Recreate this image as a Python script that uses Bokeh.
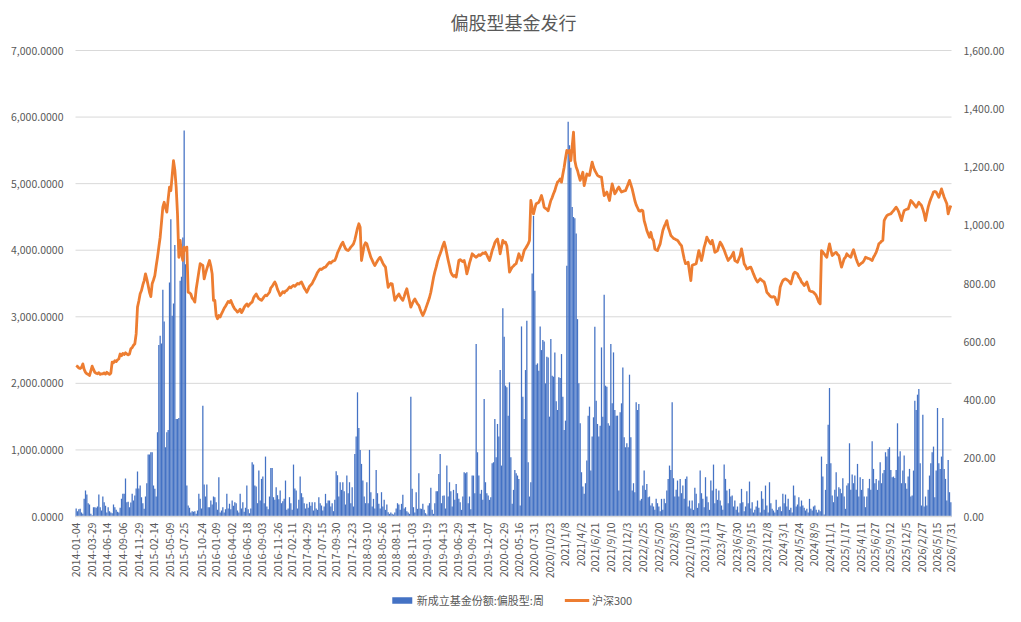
import math
from datetime import date
from bokeh.plotting import figure
from bokeh.core.properties import value
from bokeh.models import (ColumnDataSource, Range1d, Legend, LegendItem, Label)
from bokeh.embed import file_html
from bokeh.resources import INLINE

title_text = "偏股型基金发行"
bar_name = "新成立基金份额:偏股型:周"
line_name = "沪深300"

tick_labels = ["2014-01-04", "2014-03-29", "2014-06-14", "2014-09-06", "2014-11-29",
               "2015-02-14", "2015-05-09", "2015-07-25", "2015-10-24", "2016-01-09",
               "2016-04-02", "2016-06-18", "2016-09-03", "2016-11-26", "2017-02-11",
               "2017-04-29", "2017-07-15", "2017-09-30", "2017-12-23", "2018-03-10",
               "2018-05-26", "2018-08-11", "2018-11-03", "2019-01-19", "2019-04-13",
               "2019-06-29", "2019-09-14", "2019-12-07", "2020-02-29", "2020-05-16",
               "2020-07-31", "2020/10/23", "2021/1/8", "2021/4/2", "2021/6/21",
               "2021/9/10", "2021/12/3", "2022/2/25", "2022/5/20", "2022/8/5",
               "2022/10/28", "2023/1/13", "2023/4/7", "2023/6/30", "2023/9/15",
               "2023/12/8", "2024/3/1", "2024/5/24", "2024/8/9", "2024/11/1",
               "2025/1/17", "2025/4/11", "2025/6/27", "2025/9/12", "2025/12/5",
               "2026/2/27", "2026/5/15", "2026/7/31"]

# weekly new shares of equity-biased funds (left axis)
fund_shares = [
    120, 80, 110, 115, 60, 40, 265, 390, 330, 200,
    180, 40, 20, 140, 140, 130, 150, 330, 140, 90,
    300, 215, 160, 60, 140, 80, 60, 50, 180, 140,
    100, 70, 60, 130, 265, 340, 340, 570, 215, 220,
    140, 210, 340, 240, 315, 420, 675, 420, 465, 290,
    200, 115, 300, 500, 930, 930, 965, 965, 465, 415,
    300, 1265, 2575, 2715, 2600, 3405, 2930, 1040, 1265, 1300,
    3515, 4465, 3015, 3200, 4080, 1465, 1465, 1480, 3540, 3600,
    4190, 5800, 3790, 465, 165, 130, 60, 80, 70, 80,
    40, 90, 340, 265, 120, 1665, 480, 300, 480, 140,
    140, 240, 180, 300, 290, 215, 100, 590, 60, 90,
    140, 60, 110, 340, 120, 190, 110, 240, 160, 215,
    200, 90, 60, 340, 120, 215, 70, 130, 465, 110,
    50, 120, 815, 780, 465, 450, 200, 690, 240, 565,
    600, 200, 900, 150, 110, 300, 730, 730, 290, 250,
    440, 320, 260, 390, 200, 230, 265, 540, 100, 120,
    290, 200, 100, 780, 420, 390, 120, 250, 600, 350,
    290, 200, 120, 190, 130, 215, 160, 215, 90, 215,
    120, 100, 290, 200, 165, 90, 150, 340, 200, 240,
    240, 150, 200, 80, 250, 680, 620, 300, 515, 400,
    515, 380, 180, 615, 350, 515, 200, 440, 150, 940,
    1200, 1865, 1330, 1000, 790, 540, 300, 200, 515, 200,
    1000, 365, 150, 265, 120, 700, 350, 190, 120, 365,
    150, 250, 100, 180, 65, 40, 60, 40, 30, 60,
    120, 200, 180, 100, 190, 325, 120, 140, 80, 60,
    40, 1800, 415, 140, 60, 365, 115, 650, 120, 115,
    190, 100, 50, 30, 165, 200, 430, 100, 40, 200,
    380, 380, 640, 940, 200, 310, 315, 120, 765, 300,
    515, 380, 150, 400, 250, 490, 350, 265, 215, 100,
    300, 665, 650, 665, 200, 300, 110, 615, 615, 350,
    2590, 965, 615, 340, 400, 250, 1765, 515, 350, 315,
    250, 290, 800, 815, 1465, 890, 1390, 1200, 2200, 765,
    3130, 2700, 1965, 1940, 1515, 2015, 890, 190, 400, 700,
    650, 615, 565, 165, 2855, 1800, 1465, 2200, 2940, 815,
    300, 515, 3650, 4515, 3390, 2280, 2300, 2190, 2855, 2500,
    2650, 2630, 2000, 2400, 2390, 1500, 2665, 2115, 2100, 2465,
    1730, 1600, 2090, 2080, 2440, 1800, 1300, 1440, 3765, 5930,
    5575, 5240, 4650, 4500, 4480, 4250, 2965, 2000, 1400, 665,
    450, 340, 500, 840, 1515, 1650, 690, 1200, 1490, 2850,
    1740, 1390, 1200, 1365, 2540, 1500, 3330, 1965, 1950, 1400,
    1365, 2590, 1700, 2465, 1600, 1515, 1515, 390, 1565, 1700,
    2240, 1190, 1040, 1100, 1040, 2130, 1190, 390, 500, 365,
    1715, 1600, 1690, 240, 265, 465, 690, 400, 490, 290,
    300, 165, 200, 150, 100, 265, 200, 150, 80, 265,
    100, 265, 200, 390, 565, 765, 700, 1715, 575, 300,
    400, 540, 300, 565, 350, 465, 265, 565, 600, 150,
    240, 120, 240, 100, 430, 340, 130, 200, 690, 350,
    265, 140, 590, 300, 215, 100, 540, 390, 780, 200,
    415, 250, 390, 240, 165, 100, 780, 565, 390, 200,
    415, 300, 315, 150, 240, 100, 150, 60, 200, 415,
    215, 80, 150, 380, 200, 525, 120, 215, 60, 100,
    150, 240, 130, 60, 380, 265, 100, 465, 165, 60,
    515, 200, 115, 90, 60, 250, 100, 140, 150, 80,
    340, 200, 330, 150, 265, 100, 130, 60, 465, 315,
    150, 180, 290, 150, 240, 165, 130, 90, 115, 60,
    265, 115, 90, 150, 165, 100, 60, 100, 80, 900,
    600, 30, 400, 790, 1380, 1930, 800, 315, 215, 400,
    665, 300, 440, 415, 350, 575, 300, 115, 465, 500,
    1100, 400, 630, 500, 615, 400, 790, 300, 590, 400,
    565, 300, 140, 300, 425, 565, 400, 1130, 715, 500,
    565, 400, 540, 815, 500, 650, 700, 965, 900, 1015,
    1040, 700, 590, 600, 580, 700, 1400, 900, 980, 500,
    690, 915, 500, 415, 600, 715, 300, 315, 690, 1740,
    1600, 1830, 1915, 800, 165, 1530, 150, 300, 165, 400,
    615, 800, 965, 1050, 290, 690, 1630, 800, 715, 900,
    1480, 715, 565, 240, 850, 365, 215,
]

# weekly CSI 300 close (right axis)
hs300 = [
    518, 515, 510, 508, 512, 524, 505, 495, 490, 488,
    484, 500, 516, 505, 495, 492, 490, 494, 488, 490,
    490, 493, 489, 495, 491, 488, 492, 530, 528, 535,
    532, 538, 541, 558, 552, 560, 556, 562, 558, 555,
    558, 576, 580, 588, 593, 627, 719, 740, 765, 776,
    795, 810, 833, 815, 793, 770, 755, 799, 812, 827,
    860, 890, 925, 959, 1010, 1062, 1079, 1060, 1045, 1090,
    1131, 1119, 1170, 1222, 1190, 1131, 1039, 890, 948, 900,
    879, 925, 915, 925, 770, 768, 764, 750, 745, 736,
    780, 810, 840, 868, 865, 862, 816, 835, 850, 865,
    879, 860, 833, 742, 742, 690, 679, 690, 685, 696,
    705, 715, 722, 730, 738, 735, 742, 730, 720, 712,
    708, 702, 705, 712, 700, 707, 718, 725, 730, 722,
    728, 733, 736, 750, 758, 764, 755, 748, 745, 742,
    748, 755, 760, 758, 764, 770, 785, 790, 798, 805,
    795, 780, 770, 759, 765, 772, 768, 774, 776, 782,
    788, 785, 790, 793, 790, 795, 800, 798, 802, 805,
    795, 785, 778, 770, 780, 790, 795, 800, 810, 818,
    828, 838, 845, 850, 848, 852, 855, 856, 862, 868,
    873, 870, 875, 878, 879, 890, 905, 915, 925, 935,
    942, 930, 920, 915, 913, 918, 925, 930, 936, 950,
    970, 990, 1005, 993, 879, 905, 930, 940, 936, 920,
    905, 890, 880, 870, 862, 870, 878, 885, 890, 880,
    870, 862, 856, 820, 787, 795, 800, 799, 770, 742,
    750, 758, 764, 755, 748, 742, 755, 770, 782, 760,
    740, 719, 730, 740, 747, 738, 730, 725, 712, 700,
    690, 700, 712, 725, 738, 752, 770, 795, 820, 840,
    856, 875, 890, 902, 915, 930, 942, 925, 902, 880,
    860, 839, 830, 825, 828, 822, 850, 879, 882, 878,
    875, 879, 860, 833, 850, 870, 885, 902, 898, 893,
    890, 894, 899, 896, 900, 905, 903, 907, 898, 888,
    879, 895, 913, 925, 940, 948, 953, 930, 902, 925,
    948, 940, 942, 930, 890, 839, 848, 856, 860, 865,
    868, 885, 902, 890, 879, 895, 913, 920, 928, 936,
    948, 1085, 1060, 1039, 1058, 1074, 1076, 1079, 1090, 1102,
    1085, 1062, 1058, 1055, 1050, 1068, 1085, 1095, 1108, 1119,
    1135, 1148, 1152, 1159, 1148, 1175, 1199, 1230, 1257, 1250,
    1257, 1222, 1270, 1320, 1222, 1200, 1188, 1170, 1154, 1168,
    1182, 1136, 1155, 1176, 1172, 1171, 1195, 1217, 1200, 1188,
    1180, 1171, 1168, 1166, 1165, 1130, 1102, 1108, 1114, 1100,
    1085, 1115, 1142, 1125, 1108, 1115, 1125, 1131, 1122, 1114,
    1116, 1118, 1119, 1130, 1142, 1154, 1140, 1125, 1105, 1085,
    1070, 1060, 1050, 1048, 1052, 1050, 1016, 1000, 982, 970,
    959, 976, 955, 948, 919, 915, 913, 925, 936, 960,
    982, 995, 1005, 1016, 993, 980, 965, 960, 955, 953,
    950, 948, 942, 935, 930, 907, 885, 868, 870, 873,
    840, 810, 862, 865, 866, 868, 890, 913, 895, 879,
    900, 925, 940, 959, 950, 942, 936, 948, 930, 907,
    910, 913, 928, 942, 935, 925, 915, 902, 890, 879,
    885, 890, 898, 907, 879, 876, 873, 885, 896, 919,
    895, 868, 860, 850, 852, 855, 856, 845, 833, 822,
    812, 805, 810, 816, 812, 808, 805, 790, 770, 765,
    759, 755, 753, 755, 753, 740, 728, 750, 787, 800,
    810, 814, 816, 813, 810, 805, 799, 815, 833, 839,
    836, 833, 822, 816, 805, 800, 793, 798, 805, 790,
    776, 773, 772, 770, 765, 759, 748, 736, 730, 913,
    908, 902, 895, 890, 915, 936, 915, 896, 900, 905,
    907, 900, 896, 875, 856, 870, 885, 890, 902, 896,
    893, 890, 905, 916, 900, 885, 872, 862, 866, 870,
    873, 880, 890, 888, 886, 885, 882, 879, 890, 898,
    907, 920, 936, 940, 945, 948, 1016, 1025, 1033, 1036,
    1038, 1039, 1045, 1050, 1056, 1062, 1055, 1045, 1030, 1016,
    1035, 1050, 1053, 1055, 1056, 1070, 1085, 1080, 1074, 1068,
    1062, 1070, 1079, 1073, 1068, 1055, 1039, 1016, 1040, 1062,
    1078, 1091, 1102, 1114, 1116, 1114, 1105, 1096, 1110, 1125,
    1110, 1096, 1085, 1074, 1039, 1055, 1068,
]

left_ticks = [0, 1000, 2000, 3000, 4000, 5000, 6000, 7000]
right_ticks = [0, 200, 400, 600, 800, 1000, 1200, 1400, 1600]


def week_of(label):
    y, m, d = [int(t) for t in label.replace("/", "-").split("-")]
    return int(round((date(y, m, d) - date(2014, 1, 4)).days / 7))


tick_pos = [week_of(s) for s in tick_labels]
left_tick_text = [f"{v:,.4f}" for v in left_ticks]
right_tick_text = [f"{v:,.2f}" for v in right_ticks]

FONT = "Noto Sans CJK SC"
GREY = "#595959"
GRID = "#D9D9D9"
BLUE = "#4472C4"
ORANGE = "#ED7D31"

# layout (pixels): the frame covers the whole page; the data area sits
# 75 px from the left, 70 px from the right, 50 px from the top and
# 106 px from the bottom. Axis texts are placed in the margins around it.
W, H = 1021, 622
TOP_PX, BOTTOM_PX = 50, 106
LEFT_PX, RIGHT_PX = 75, 70
PLOT_PX = H - TOP_PX - BOTTOM_PX
PLOT_W = W - LEFT_PX - RIGHT_PX
L_MAX, R_MAX = left_ticks[-1], right_ticks[-1]
lpx = L_MAX / PLOT_PX          # left-axis units per pixel
rpx = R_MAX / PLOT_PX          # right-axis units per pixel

n_weeks = len(fund_shares)
wpx = n_weeks / PLOT_W         # weeks per pixel
x_lo, x_hi = -0.5, n_weeks - 0.5

bar_src = ColumnDataSource(dict(x=list(range(len(fund_shares))), v=fund_shares))
line_src = ColumnDataSource(dict(x=list(range(len(hs300))), v=hs300))
tick_src = ColumnDataSource(dict(x=tick_pos, y=[-6 * lpx] * len(tick_pos),
                                 t=tick_labels))
grid_src = ColumnDataSource(dict(x0=[x_lo] * len(left_ticks),
                                 x1=[x_hi] * len(left_ticks),
                                 y=left_ticks))
left_src = ColumnDataSource(dict(x=[x_lo - 12 * wpx] * len(left_ticks),
                                 y=left_ticks, t=left_tick_text))
right_src = ColumnDataSource(dict(x=[x_hi + 12 * wpx] * len(right_ticks),
                                  y=right_ticks, t=right_tick_text))

p = figure(width=W, height=H, output_backend="svg", toolbar_location=None,
           x_axis_location=None, y_axis_location=None,
           x_range=Range1d(x_lo - LEFT_PX * wpx, x_hi + RIGHT_PX * wpx),
           y_range=Range1d(-BOTTOM_PX * lpx, L_MAX + TOP_PX * lpx),
           min_border_left=0, min_border_right=0,
           min_border_top=0, min_border_bottom=0)
p.extra_y_ranges = {"hs": Range1d(-BOTTOM_PX * rpx, R_MAX + TOP_PX * rpx)}
p.title.text = ""
p.title.visible = False
p.outline_line_color = None
p.background_fill_color = "white"
p.border_fill_color = "white"
p.xgrid.visible = False
p.ygrid.visible = False

# horizontal gridlines at the left-axis ticks, across the category span
p.segment(x0="x0", x1="x1", y0="y", y1="y", source=grid_src,
          line_color=GRID, line_width=1)

bars = p.vbar(x="x", top="v", width=0.95, source=bar_src,
              fill_color=BLUE, line_color=None)
line = p.line(x="x", y="v", source=line_src, line_color=ORANGE, line_width=2.8,
              y_range_name="hs", line_join="round")

# category axis baseline
p.segment(x0=[x_lo], x1=[x_hi], y0=[0], y1=[0], line_color=GRID, line_width=1.5)

# date tick labels, vertical, just under the baseline
p.text(x="x", y="y", text="t", source=tick_src, angle=math.pi / 2,
       text_align="right", text_baseline="middle",
       text_font=value(FONT), text_font_size=value("10.7px"), text_color=GREY)

# left axis labels
p.text(x="x", y="y", text="t", source=left_src,
       text_align="right", text_baseline="middle",
       text_font=value(FONT), text_font_size=value("10.5px"), text_color=GREY)

# right axis labels
p.text(x="x", y="y", text="t", source=right_src, y_range_name="hs",
       text_align="left", text_baseline="middle",
       text_font=value(FONT), text_font_size=value("10.5px"), text_color=GREY)

# title
p.add_layout(Label(x=(n_weeks - 1) / 2, y=L_MAX + 29 * lpx, text=title_text,
                   text_align="center", text_baseline="middle",
                   text_font=FONT, text_font_size="18px", text_color=GREY))

legend = Legend(items=[LegendItem(label=bar_name, renderers=[bars]),
                       LegendItem(label=line_name, renderers=[line])],
                orientation="horizontal", location="bottom_center",
                border_line_color=None, background_fill_alpha=0,
                label_text_font=FONT, label_text_font_size="11px",
                label_text_color=GREY, glyph_width=25, glyph_height=8,
                label_height=14, spacing=20, label_standoff=3,
                padding=0, margin=14)
p.add_layout(legend, "center")

open("out.html", "w").write(file_html(p, INLINE))
